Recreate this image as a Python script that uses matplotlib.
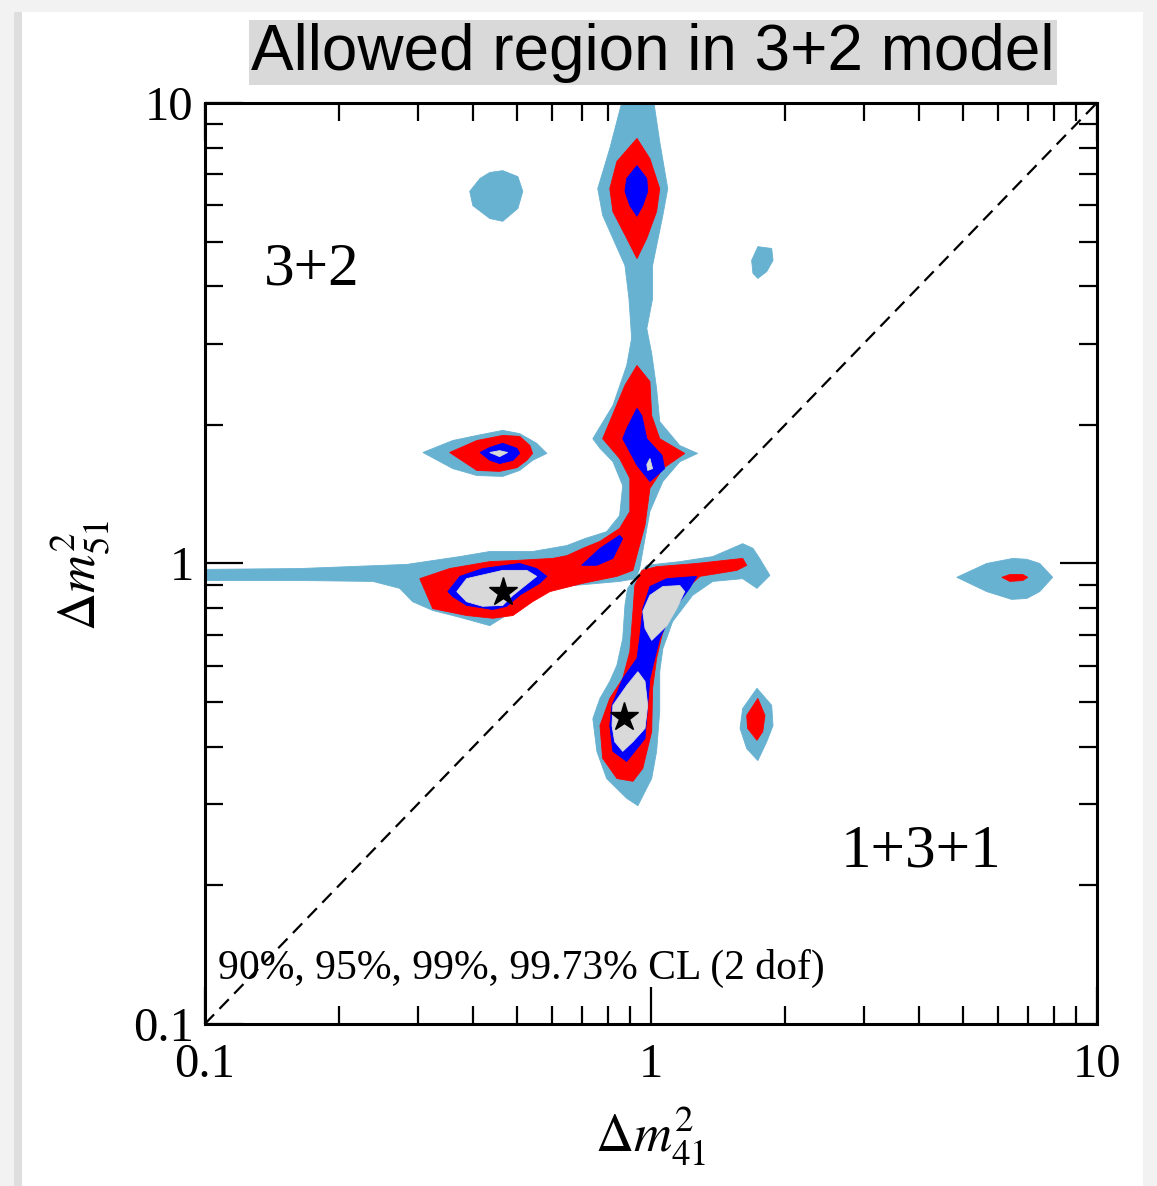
import numpy as np
import matplotlib
matplotlib.use('Agg')
import matplotlib.pyplot as plt
from matplotlib.patches import Rectangle
from matplotlib.ticker import NullFormatter

plt.rcParams['font.family'] = ['Liberation Serif', 'DejaVu Serif']
plt.rcParams['mathtext.fontset'] = 'stix'

# allowed-region outlines as log10(dm^2) pairs (dm41, dm51)
cl9973_upper_arm = [
    (-0.060, 1.02), (0.004, 1.02), (0.020, 0.916), (0.038, 0.814), (0.027, 0.756),
    (0.004, 0.647), (0.004, 0.575), (-0.009, 0.510), (0.002, 0.456), (0.013, 0.380),
    (0.020, 0.308), (0.065, 0.256), (0.105, 0.239), (0.065, 0.221), (0.027, 0.178),
    (-0.002, 0.113), (-0.013, 0.054), (-0.025, -0.011), (-0.034, -0.033), (-0.070, -0.039),
    (-0.175, -0.048), (-0.242, -0.061), (-0.300, -0.098), (-0.361, -0.135), (-0.428, -0.117),
    (-0.489, -0.102), (-0.534, -0.083), (-0.563, -0.054), (-0.623, -0.039), (-0.787, -0.037),
    (-1.02, -0.037), (-1.02, -0.013), (-0.787, -0.011), (-0.547, -0.002), (-0.428, 0.015),
    (-0.361, 0.026), (-0.265, 0.026), (-0.188, 0.039), (-0.148, 0.054), (-0.099, 0.069),
    (-0.070, 0.104), (-0.063, 0.169), (-0.085, 0.221), (-0.114, 0.250), (-0.130, 0.271),
    (-0.085, 0.343), (-0.054, 0.430), (-0.043, 0.489), (-0.049, 0.575), (-0.058, 0.647),
    (-0.108, 0.756), (-0.119, 0.814), (-0.092, 0.901),
]
cl9973_lower_arm = [
    (-0.036, -0.033), (-0.009, -0.004), (0.065, 0.004), (0.139, 0.015), (0.206, 0.043),
    (0.229, 0.033), (0.244, 0.011), (0.267, -0.026), (0.238, -0.054), (0.206, -0.033),
    (0.139, -0.039), (0.094, -0.069), (0.049, -0.126), (0.027, -0.185), (0.020, -0.235),
    (0.020, -0.321), (0.013, -0.408), (0.002, -0.467), (-0.029, -0.526), (-0.054, -0.510),
    (-0.099, -0.467), (-0.121, -0.408), (-0.130, -0.337), (-0.114, -0.293), (-0.092, -0.256),
    (-0.076, -0.221), (-0.063, -0.163), (-0.058, -0.091), (-0.052, -0.054),
]
cl9973_island_a = [
    (-0.511, 0.241), (-0.444, 0.267), (-0.390, 0.278), (-0.332, 0.289), (-0.294, 0.282),
    (-0.256, 0.261), (-0.233, 0.239), (-0.265, 0.224), (-0.294, 0.202), (-0.332, 0.189),
    (-0.390, 0.191), (-0.444, 0.206),
]
cl9973_island_b = [
    (-0.406, 0.808), (-0.383, 0.836), (-0.361, 0.849), (-0.332, 0.853), (-0.298, 0.840),
    (-0.287, 0.808), (-0.298, 0.771), (-0.332, 0.743), (-0.361, 0.749), (-0.399, 0.777),
]
cl9973_island_c = [
    (0.240, 0.688), (0.271, 0.684), (0.274, 0.658), (0.260, 0.634), (0.240, 0.619),
    (0.229, 0.630), (0.226, 0.658),
]
cl9973_island_d = [
    (0.686, -0.030), (0.753, 0.0), (0.812, 0.011), (0.843, 0.009), (0.872, 0.0),
    (0.901, -0.030), (0.872, -0.061), (0.843, -0.076), (0.809, -0.078), (0.753, -0.061),
]
cl9973_island_e = [
    (0.238, -0.271), (0.271, -0.308), (0.274, -0.352), (0.260, -0.387), (0.240, -0.428),
    (0.215, -0.402), (0.200, -0.358), (0.206, -0.315),
]

cl99_upper_arm = [
    (-0.031, 0.430), (-0.002, 0.395), (0.002, 0.321), (0.020, 0.271), (0.076, 0.239),
    (0.027, 0.206), (-0.002, 0.163), (-0.013, 0.083), (-0.029, 0.026), (-0.040, -0.015),
    (-0.076, -0.028), (-0.152, -0.043), (-0.226, -0.061), (-0.265, -0.083), (-0.309, -0.113),
    (-0.354, -0.119), (-0.413, -0.113), (-0.489, -0.098), (-0.518, -0.033), (-0.451, -0.011),
    (-0.361, 0.004), (-0.294, 0.007), (-0.220, 0.011), (-0.188, 0.017), (-0.152, 0.033),
    (-0.114, 0.048), (-0.070, 0.076), (-0.047, 0.113), (-0.047, 0.185), (-0.070, 0.228),
    (-0.108, 0.271), (-0.058, 0.387),
]
cl99_top = [
    (-0.031, 0.923), (-0.002, 0.879), (0.020, 0.814), (0.013, 0.764), (-0.009, 0.706),
    (-0.031, 0.662), (-0.054, 0.706), (-0.085, 0.764), (-0.092, 0.814), (-0.076, 0.873),
]
cl99_lower_arm = [
    (-0.020, -0.015), (0.013, -0.007), (0.103, 0.0), (0.206, 0.011), (0.215, -0.004),
    (0.193, -0.015), (0.110, -0.028), (0.081, -0.054), (0.043, -0.104), (0.025, -0.156),
    (0.013, -0.206), (0.004, -0.271), (0.002, -0.365), (-0.018, -0.445), (-0.040, -0.473),
    (-0.076, -0.467), (-0.108, -0.423), (-0.114, -0.352), (-0.092, -0.293), (-0.063, -0.250),
    (-0.047, -0.191), (-0.040, -0.104), (-0.036, -0.048),
]
cl99_island_a = [
    (-0.451, 0.241), (-0.390, 0.267), (-0.332, 0.278), (-0.294, 0.276), (-0.271, 0.256),
    (-0.265, 0.239), (-0.278, 0.224), (-0.300, 0.208), (-0.339, 0.200), (-0.390, 0.202),
]
cl99_island_d = [
    (0.787, -0.030), (0.805, -0.024), (0.834, -0.024), (0.845, -0.030), (0.834, -0.037),
    (0.805, -0.039),
]
cl99_island_e = [
    (0.240, -0.293), (0.256, -0.330), (0.251, -0.365), (0.238, -0.384), (0.217, -0.358),
    (0.215, -0.330),
]

cl95_main = [
    (-0.455, -0.061), (-0.428, -0.028), (-0.377, -0.011), (-0.294, 0.0), (-0.256, -0.011),
    (-0.233, -0.028), (-0.249, -0.043), (-0.294, -0.069), (-0.323, -0.093), (-0.354, -0.100),
    (-0.413, -0.091), (-0.444, -0.072),
]
cl95_band = [
    (-0.155, -0.004), (-0.114, 0.033), (-0.070, 0.061), (-0.063, 0.054), (-0.085, 0.011),
    (-0.121, -0.004),
]
cl95_arm = [
    (-0.031, 0.337), (-0.054, 0.293), (-0.063, 0.271), (-0.031, 0.213), (-0.002, 0.178),
    (0.031, 0.206), (0.025, 0.235), (-0.009, 0.271), (-0.020, 0.321),
]
cl95_top = [
    (-0.031, 0.864), (-0.009, 0.836), (-0.007, 0.808), (-0.018, 0.777), (-0.031, 0.754),
    (-0.047, 0.777), (-0.058, 0.808), (-0.054, 0.836),
]
cl95_island_a = [
    (-0.383, 0.241), (-0.361, 0.252), (-0.332, 0.261), (-0.300, 0.250), (-0.294, 0.239),
    (-0.309, 0.224), (-0.339, 0.217), (-0.361, 0.224),
]
cl95_lower_arm = [
    (-0.002, -0.050), (0.036, -0.033), (0.103, -0.028), (0.087, -0.054), (0.049, -0.104),
    (0.020, -0.163), (0.009, -0.206), (-0.002, -0.250), (-0.007, -0.308), (-0.013, -0.380),
    (-0.054, -0.430), (-0.085, -0.408), (-0.092, -0.352), (-0.087, -0.308), (-0.063, -0.250),
    (-0.031, -0.206), (-0.025, -0.163), (-0.018, -0.098),
]

cl90_main = [
    (-0.435, -0.061), (-0.413, -0.033), (-0.332, -0.015), (-0.278, -0.015), (-0.256, -0.028),
    (-0.309, -0.069), (-0.332, -0.091), (-0.377, -0.093), (-0.413, -0.083),
]
cl90_lower_a = [
    (-0.002, -0.069), (0.027, -0.050), (0.065, -0.048), (0.076, -0.061), (0.058, -0.098),
    (0.036, -0.135), (0.002, -0.167), (-0.013, -0.141), (-0.018, -0.104),
]
cl90_lower_b = [
    (-0.029, -0.235), (-0.013, -0.256), (-0.007, -0.308), (-0.013, -0.358), (-0.040, -0.387),
    (-0.063, -0.408), (-0.081, -0.387), (-0.087, -0.352), (-0.085, -0.308), (-0.054, -0.265),
]
cl90_island_a = [(-0.361, 0.241), (-0.339, 0.245), (-0.321, 0.241), (-0.339, 0.232)]
cl90_arm = [(-0.002, 0.228), (0.004, 0.206), (-0.007, 0.202), (-0.009, 0.215)]

bestfit_dm41 = [0.466, 0.87]
bestfit_dm51 = [0.867, 0.465]
diagonal = [0.1, 10]

layers = [
    ('#67b1d1', [cl9973_upper_arm, cl9973_lower_arm, cl9973_island_a, cl9973_island_b,
                 cl9973_island_c, cl9973_island_d, cl9973_island_e]),
    ('#ff0000', [cl99_upper_arm, cl99_top, cl99_lower_arm, cl99_island_a,
                 cl99_island_d, cl99_island_e]),
    ('#0000ff', [cl95_main, cl95_band, cl95_arm, cl95_top, cl95_island_a, cl95_lower_arm]),
    ('#d9d9d9', [cl90_main, cl90_lower_a, cl90_lower_b, cl90_island_a, cl90_arm]),
]

fig = plt.figure(figsize=(11.57, 11.86), dpi=100)
fig.patch.set_facecolor('#f2f2f2')
# card with a soft shadow around it
fig.patches.append(Rectangle((0.012, -0.01), 0.976, 1.0, transform=fig.transFigure,
                             facecolor='#dedede', edgecolor='none', zorder=-3))
fig.patches.append(Rectangle((0.019, -0.01), 0.969, 1.0, transform=fig.transFigure,
                             facecolor='white', edgecolor='none', zorder=-2))

ax = fig.add_axes([0.177, 0.1366, 0.771, 0.7766])
ax.set_xscale('log')
ax.set_yscale('log')

for color, polys in layers:
    for poly in polys:
        p = 10 ** np.array(poly)
        ax.fill(p[:, 0], p[:, 1], facecolor=color, edgecolor=color, linewidth=0.6, zorder=2)

ax.plot(diagonal, diagonal, color='black', linestyle=(0, (6, 3.5)), linewidth=1.6, zorder=3)
ax.plot(bestfit_dm41, bestfit_dm51, linestyle='none', marker='*', markersize=21,
        color='black', zorder=4)

ax.set_xlim(0.1, 10)
ax.set_ylim(0.1, 10)
ax.set_xticks([0.1, 1, 10], ['0.1', '1', '10'])
ax.set_yticks([0.1, 1, 10], ['0.1', '1', '10'])
ax.xaxis.set_minor_formatter(NullFormatter())
ax.yaxis.set_minor_formatter(NullFormatter())
ax.tick_params(which='both', direction='in', top=True, right=True, width=1.6, labelsize=35)
ax.tick_params(axis='x', which='major', length=27, pad=14)
ax.tick_params(axis='y', which='major', length=27, pad=8)
ax.tick_params(which='minor', length=13)
for s in ax.spines.values():
    s.set_linewidth(2.2)

ax.set_xlabel(r'$\Delta m^2_{41}$', fontsize=38, va='center')
ax.set_ylabel(r'$\Delta m^2_{51}$', fontsize=38, va='center')
ax.xaxis.set_label_coords(0.5, -0.122)
ax.yaxis.set_label_coords(-0.14, 0.4875)

ax.text(0.12, 0.819, '3+2', transform=ax.transAxes, fontsize=44, ha='center', va='center')
ax.text(0.803, 0.187, '1+3+1', transform=ax.transAxes, fontsize=44, ha='center', va='center')
ax.text(0.015, 0.06, '90%, 95%, 99%, 99.73% CL (2 dof)', transform=ax.transAxes,
        fontsize=30, ha='left', va='center')

fig.text(0.5644, 0.9556, 'Allowed region in 3+2 model', family='Liberation Sans',
         fontsize=46, ha='center', va='center',
         bbox=dict(facecolor='#d9d9d9', edgecolor='none', pad=2))

fig.savefig('out.png', dpi=100, facecolor=fig.get_facecolor())
